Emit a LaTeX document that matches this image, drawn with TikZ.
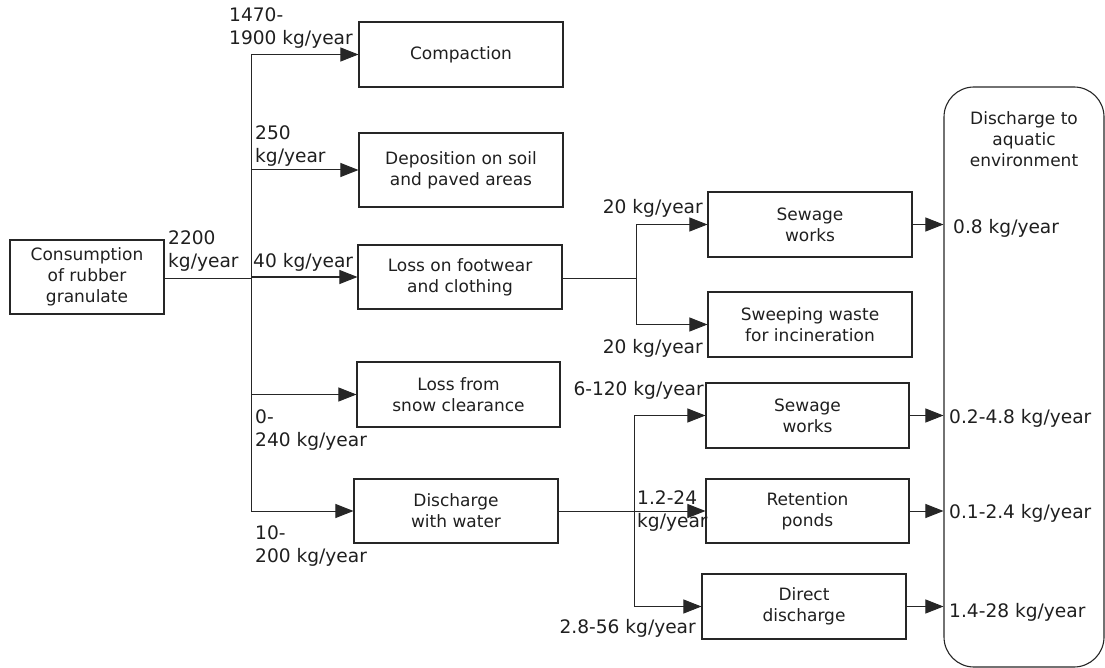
\documentclass[tikz,border=0pt]{standalone}
\usepackage{fontspec}
\setmainfont{DejaVu Sans}
\usetikzlibrary{arrows.meta}
\newcommand\boxfont{\fontsize{17}{21}\selectfont}
\newcommand\labfont{\fontsize{18.6}{23}\selectfont}
\begin{document}
\begin{tikzpicture}[x=1pt,y=-1pt,
  box/.style={draw=black!85, line width=1.1pt, minimum width=204pt, minimum height=65pt, align=center, inner sep=0pt, font=\boxfont, text=black!88},
  lab/.style={inner sep=0pt, font=\labfont, align=left, text=black!88},
  arr/.style={-{Triangle[length=18pt,width=14pt]}, line width=1pt, draw=black!85},
  ln/.style={line width=1pt, draw=black!85}]
\useasboundingbox (0,0) rectangle (1105,668);

% boxes
\node[box, minimum width=154pt, minimum height=74pt] (cons) at (87,277) {Consumption\\of rubber\\granulate};
\node[box] (comp) at (461,54.5) {Compaction};
\node[box, minimum height=74pt] (depo) at (461,170) {Deposition on soil\\and paved areas};
\node[box, minimum height=64pt] (foot) at (460,277) {Loss on footwear\\and clothing};
\node[box, minimum width=203pt] (snow) at (458.5,394.5) {Loss from\\snow clearance};
\node[box, minimum height=64pt] (water) at (456,511) {Discharge\\with water};
\node[box] (sew1) at (810,224.5) {Sewage\\works};
\node[box] (sweep) at (810,324.5) {Sweeping waste\\for incineration};
\node[box, minimum width=203pt] (sew2) at (807.5,415.5) {Sewage\\works};
\node[box, minimum width=203pt, minimum height=64pt] (ret) at (807.5,511) {Retention\\ponds};
\node[box] (direct) at (804,606.5) {Direct\\discharge};
\node[draw=black!85, line width=1.1pt, rounded corners=30pt, minimum width=160pt, minimum height=580pt, inner sep=0pt] (aq) at (1024,377) {};
\node[font=\boxfont, align=center, anchor=base, inner sep=0pt, text=black!88] (aqt) at (1024,167) {Discharge to\\aquatic\\environment};

% trunk
\coordinate (j1) at (251,278);
\draw[ln] (cons.east |- j1) -- (j1);
\draw[ln] (j1 |- comp.west) -- (j1 |- water.west);
\draw[arr] (j1 |- comp.west) -- (comp.west);
\draw[arr] (j1 |- depo.west) -- (depo.west);
\draw[arr] (j1 |- foot.west) -- (foot.west);
\draw[arr] (j1 |- snow.west) -- (snow.west);
\draw[arr] (j1 |- water.west) -- (water.west);

% footwear split
\coordinate (j2) at (636,278);
\draw[ln] (foot.east |- j2) -- (j2);
\draw[ln] (j2 |- sew1.west) -- (j2 |- sweep.west);
\draw[arr] (j2 |- sew1.west) -- (sew1.west);
\draw[arr] (j2 |- sweep.west) -- (sweep.west);

% water split
\coordinate (j3) at (634,511);
\draw[arr] (water.east) -- (ret.west);
\draw[ln] (j3 |- sew2.west) -- (j3 |- direct.west);
\draw[arr] (j3 |- sew2.west) -- (sew2.west);
\draw[arr] (j3 |- direct.west) -- (direct.west);

% outputs
\draw[arr] (sew1.east) -- (aq.west |- sew1.east);
\draw[arr] (sew2.east) -- (aq.west |- sew2.east);
\draw[arr] (ret.east) -- (aq.west |- ret.east);
\draw[arr] (direct.east) -- (aq.west |- direct.east);

% labels (base = baseline of last line)
\node[lab, anchor=base west] (l1) at (229,45) {1470-\\1900 kg/year};
\node[lab, anchor=base west] (l2) at (255,163) {250\\kg/year};
\node[lab, anchor=base west] (l3) at (168,268) {2200\\kg/year};
\node[lab, anchor=base west] (l4) at (253,268) {40 kg/year};
\node[lab, anchor=base west] (l5) at (255,446) {0-\\240 kg/year};
\node[lab, anchor=base west] (l6) at (255,562) {10-\\200 kg/year};
\node[lab, anchor=base east] (l7) at (703,214) {20 kg/year};
\node[lab, anchor=base east] (l8) at (703,353) {20 kg/year};
\node[lab, anchor=base east] (l9) at (704,395) {6-120 kg/year};
\node[lab, anchor=base west] (l10) at (637,527) {1.2-24\\kg/year};
\node[lab, anchor=base east] (l11) at (696,633) {2.8-56 kg/year};
\node[lab, anchor=base west] (o1) at (953,234) {0.8 kg/year};
\node[lab, anchor=base west] (o2) at (949,423) {0.2-4.8 kg/year};
\node[lab, anchor=base west] (o3) at (949,518) {0.1-2.4 kg/year};
\node[lab, anchor=base west] (o4) at (949,617) {1.4-28 kg/year};
\end{tikzpicture}
\end{document}
